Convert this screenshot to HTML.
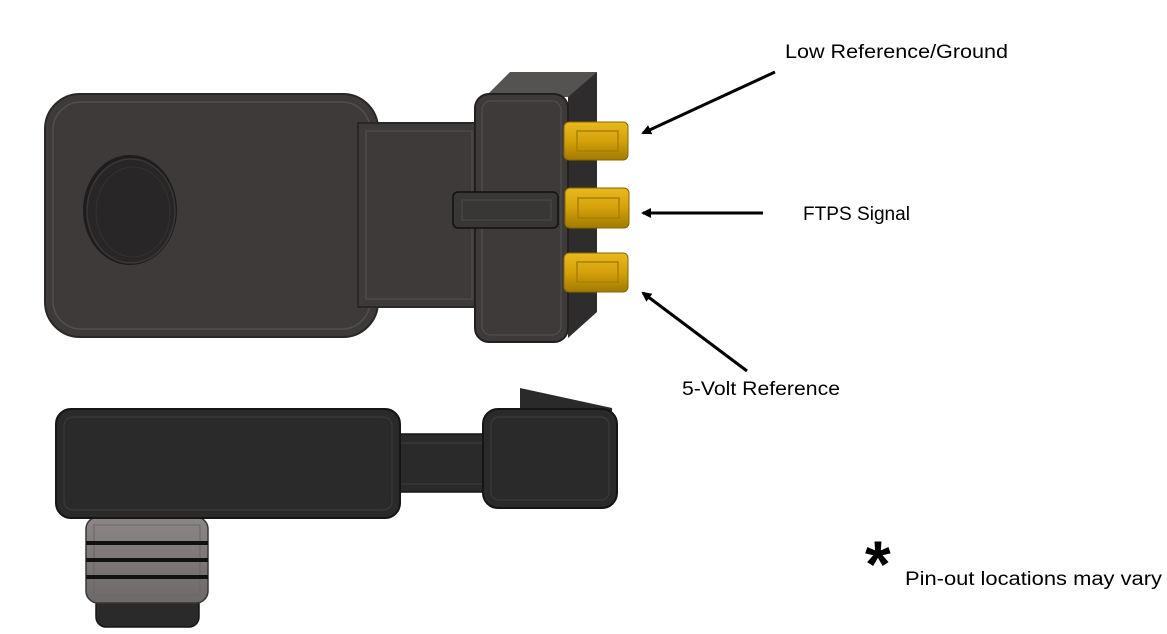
<!DOCTYPE html>
<html><head><meta charset="utf-8"><style>
html,body{margin:0;padding:0;background:#fff;}
svg{display:block;}
text{font-family:"Liberation Sans",sans-serif;fill:#000;}
</style></head><body>
<svg width="1167" height="634" viewBox="0 0 1167 634" xmlns="http://www.w3.org/2000/svg">
<defs>
<linearGradient id="gold" x1="0" y1="0" x2="0" y2="1">
<stop offset="0" stop-color="#e9b91e"/><stop offset="0.5" stop-color="#d4a10a"/><stop offset="1" stop-color="#a27a00"/>
</linearGradient>
<linearGradient id="gray" x1="0" y1="0" x2="0" y2="1">
<stop offset="0" stop-color="#8c8686"/><stop offset="1" stop-color="#6e6868"/>
</linearGradient>
<marker id="ah" markerWidth="10" markerHeight="10" refX="8" refY="5" orient="auto" markerUnits="userSpaceOnUse">
<path d="M0,0 L10,5 L0,10 z" fill="#000"/>
</marker>
</defs>

<!-- TOP VIEW -->
<polygon points="484,98 510,72 597,72 570,97" fill="#555252"/>
<polygon points="568,97 597,72 597,312 568,338" fill="#2e2c2c"/>
<rect x="45" y="94" width="333" height="243" rx="35" fill="#3e3a3a" stroke="#2a2727" stroke-width="2"/>
<rect x="53" y="102" width="317" height="227" rx="28" fill="none" stroke="#524e4e" stroke-width="1.5"/>
<ellipse cx="130" cy="210" rx="47" ry="55" fill="#1e1c1c"/>
<ellipse cx="131" cy="211" rx="44" ry="52" fill="#282626" stroke="#3a3737" stroke-width="1.5"/>
<ellipse cx="133" cy="212" rx="37" ry="45" fill="none" stroke="#343131" stroke-width="1"/>
<rect x="358" y="123" width="122" height="184" fill="#3e3a3a" stroke="#2a2727" stroke-width="2"/>
<rect x="366" y="131" width="106" height="168" fill="none" stroke="#4e4a4a" stroke-width="1.5"/>
<rect x="475" y="94" width="93" height="248" rx="14" fill="#3e3a3a" stroke="#221f1f" stroke-width="2"/>
<rect x="482" y="101" width="79" height="234" rx="9" fill="none" stroke="#524e4e" stroke-width="1.2"/>
<g>
<rect x="564" y="122" width="64" height="38" rx="5" fill="url(#gold)" stroke="#8a6600" stroke-width="1"/>
<rect x="577" y="131" width="41" height="20" fill="none" stroke="#a88000" stroke-width="1.5"/>
<rect x="565" y="188" width="64" height="40" rx="5" fill="url(#gold)" stroke="#8a6600" stroke-width="1"/>
<rect x="578" y="198" width="41" height="20" fill="none" stroke="#a88000" stroke-width="1.5"/>
<rect x="564" y="253" width="64" height="39" rx="5" fill="url(#gold)" stroke="#8a6600" stroke-width="1"/>
<rect x="577" y="262" width="41" height="20" fill="none" stroke="#a88000" stroke-width="1.5"/>
</g>
<rect x="453" y="192" width="105" height="36" rx="5" fill="#393636" stroke="#111" stroke-width="1.5"/>
<rect x="462" y="200" width="89" height="20" fill="none" stroke="#4a4646" stroke-width="1.2"/>

<!-- BOTTOM VIEW -->
<polygon points="520,388 612,408 612,412 520,412" fill="#2a2a2a"/>
<rect x="398" y="434" width="92" height="58" fill="#2a2a2a" stroke="#151515" stroke-width="1.5"/>
<line x1="398" y1="443" x2="488" y2="443" stroke="#3a3a3a" stroke-width="1.2"/>
<line x1="398" y1="484" x2="488" y2="484" stroke="#3a3a3a" stroke-width="1.2"/>
<rect x="483" y="409" width="134" height="99" rx="15" fill="#2a2a2a" stroke="#151515" stroke-width="2"/>
<rect x="491" y="417" width="118" height="83" rx="8" fill="none" stroke="#3a3a3a" stroke-width="1.2"/>
<rect x="96" y="590" width="103" height="37" rx="10" fill="#2a2a2a" stroke="#151515" stroke-width="1.5"/>
<rect x="86" y="517" width="122" height="86" rx="12" fill="url(#gray)" stroke="#3a3636" stroke-width="1.5"/>
<rect x="94" y="525" width="106" height="70" fill="none" stroke="#6a6464" stroke-width="1"/>
<rect x="86" y="541" width="122" height="4" fill="#111"/>
<rect x="86" y="558" width="122" height="4" fill="#111"/>
<rect x="86" y="575" width="122" height="4" fill="#111"/>
<rect x="56" y="409" width="344" height="109" rx="15" fill="#2a2a2a" stroke="#151515" stroke-width="2"/>
<rect x="64" y="417" width="328" height="93" rx="9" fill="none" stroke="#3a3a3a" stroke-width="1.2"/>

<!-- ARROWS -->
<line x1="775" y1="72" x2="643" y2="133" stroke="#000" stroke-width="3" marker-end="url(#ah)"/>
<line x1="763" y1="213" x2="643" y2="213" stroke="#000" stroke-width="3" marker-end="url(#ah)"/>
<line x1="747" y1="371" x2="643" y2="293" stroke="#000" stroke-width="3" marker-end="url(#ah)"/>

<!-- LABELS -->
<text x="785" y="58" font-size="19" textLength="223" lengthAdjust="spacingAndGlyphs">Low Reference/Ground</text>
<text x="803" y="220" font-size="19" textLength="107" lengthAdjust="spacingAndGlyphs">FTPS Signal</text>
<text x="682" y="395" font-size="19" textLength="158" lengthAdjust="spacingAndGlyphs">5-Volt Reference</text>
<text x="865" y="587" font-size="66" font-weight="bold">*</text>
<text x="905" y="585" font-size="19" textLength="257" lengthAdjust="spacingAndGlyphs">Pin-out locations may vary</text>
</svg>
</body></html>
